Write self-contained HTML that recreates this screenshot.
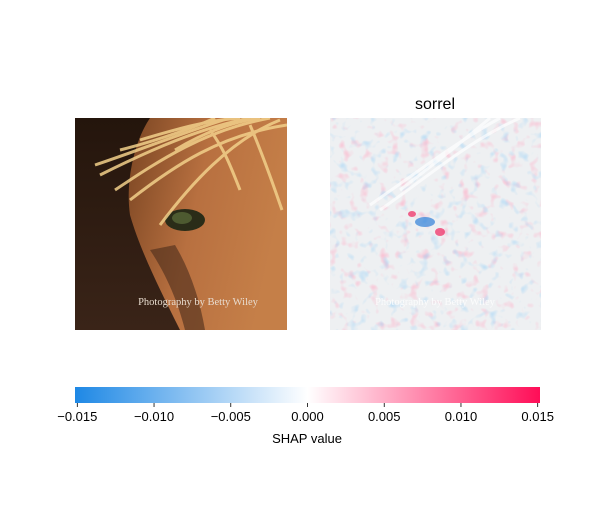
<!DOCTYPE html>
<html><head><meta charset="utf-8"><style>
body{margin:0;background:#fff;width:600px;height:500px;overflow:hidden;font-family:"Liberation Sans","DejaVu Sans",sans-serif}
</style></head><body>
<svg width="600" height="500" xmlns="http://www.w3.org/2000/svg">
<defs>
<linearGradient id="horse" x1="0" y1="0" x2="1" y2="0.3">
<stop offset="0" stop-color="#7a4522"/><stop offset="0.5" stop-color="#b87040"/><stop offset="1" stop-color="#c57f48"/></linearGradient>
<linearGradient id="bg" x1="0" y1="0" x2="0" y2="1">
<stop offset="0" stop-color="#24150c"/><stop offset="1" stop-color="#3a2418"/></linearGradient>
<linearGradient id="cb" x1="0" y1="0" x2="1" y2="0">
<stop offset="0" stop-color="#1e88e5"/><stop offset="0.5" stop-color="#ffffff"/><stop offset="1" stop-color="#ff0d57"/></linearGradient>
<filter id="noiseR" x="0" y="0" width="1" height="1">
<feTurbulence type="fractalNoise" baseFrequency="0.1" numOctaves="2" seed="3"/>
<feColorMatrix type="matrix" values="0 0 0 0 1  0 0 0 0 0.4  0 0 0 0 0.55  2 0 0 0 -1.15"/>
</filter>
<filter id="noiseB" x="0" y="0" width="1" height="1">
<feTurbulence type="fractalNoise" baseFrequency="0.1" numOctaves="2" seed="9"/>
<feColorMatrix type="matrix" values="0 0 0 0 0.35  0 0 0 0 0.65  0 0 0 0 0.92  2 0 0 0 -1.15"/>
</filter>
<clipPath id="clipL"><rect x="75" y="118" width="212" height="212"/></clipPath>
</defs>

<g clip-path="url(#clipL)">
<rect x="75" y="118" width="212" height="212" fill="url(#bg)"/>
<path d="M150,118 L287,118 L287,330 L180,330 C160,290 140,250 130,215 C125,180 135,140 150,118Z" fill="url(#horse)"/>
<path d="M150,250 C170,280 180,310 185,330 L205,330 C200,300 190,270 175,245Z" fill="#4a2c1a" opacity="0.6"/>
<ellipse cx="185" cy="220" rx="20" ry="11" fill="#2a2c18"/>
<ellipse cx="182" cy="218" rx="10" ry="6" fill="#4d5a30"/>
<g stroke="#f2d08a" stroke-width="3" fill="none" opacity="0.85">
<path d="M95,165 C140,150 190,130 230,118"/><path d="M100,175 C150,150 200,128 250,118"/>
<path d="M115,190 C160,160 205,130 270,118"/><path d="M130,200 C175,165 220,135 287,125"/>
<path d="M160,225 C190,185 230,140 280,120"/><path d="M250,125 C265,160 275,190 282,210"/>
<path d="M210,130 C225,150 232,170 240,190"/><path d="M120,150 C160,140 200,125 215,118"/>
<path d="M140,140 C180,128 210,120 240,118"/><path d="M175,150 C200,135 230,122 260,118"/>
</g>
<text x="198" y="305" font-family="Liberation Serif,serif" font-size="10.5" fill="#e8dccf" text-anchor="middle">Photography by Betty Wiley</text>
</g>

<g>
<rect x="330" y="118" width="211" height="212" fill="#eef0f2"/>
<rect x="330" y="118" width="211" height="212" filter="url(#noiseR)"/>
<rect x="330" y="118" width="211" height="212" filter="url(#noiseB)"/>
<g stroke="#ffffff" stroke-width="3" opacity="0.7" fill="none">
<path d="M370,205 C420,170 460,140 500,118"/><path d="M380,210 C430,175 470,140 520,118"/><path d="M400,190 C440,160 470,135 490,118"/>
</g>
<ellipse cx="425" cy="222" rx="10" ry="5" fill="#2f7fd8" opacity="0.7"/>
<ellipse cx="440" cy="232" rx="5" ry="4" fill="#f0245e" opacity="0.7"/>
<ellipse cx="412" cy="214" rx="4" ry="3" fill="#f0245e" opacity="0.7"/>
<text x="435" y="305" font-family="Liberation Serif,serif" font-size="10.5" fill="#fff" opacity="0.8" text-anchor="middle">Photography by Betty Wiley</text>
</g>
<text x="435" y="109" font-size="16" text-anchor="middle" fill="#000">sorrel</text>

<g id="colorbar">
<rect x="75" y="387" width="465" height="16" fill="url(#cb)"/>
</g>
<text x="307" y="443" font-size="13" text-anchor="middle" fill="#000">SHAP value</text>
</svg>
<script>
const tickValues=[-0.015,-0.010,-0.005,0.000,0.005,0.010,0.015];
const tickLabels=["\u22120.015","\u22120.010","\u22120.005","0.000","0.005","0.010","0.015"];
const domain=[-0.01515,0.01515];
const x=v=>75+(v-domain[0])/(domain[1]-domain[0])*465;
const g=document.getElementById('colorbar');
const NS='http://www.w3.org/2000/svg';
tickValues.forEach((v,i)=>{
 const l=document.createElementNS(NS,'line');
 l.setAttribute('x1',x(v));l.setAttribute('x2',x(v));l.setAttribute('y1',403);l.setAttribute('y2',407);
 l.setAttribute('stroke','#000');l.setAttribute('stroke-width','0.8');
 
 
 g.appendChild(l);
 const t=document.createElementNS(NS,'text');
 t.setAttribute('x',x(v));t.setAttribute('y',421);t.setAttribute('text-anchor','middle');
 t.setAttribute('font-size','13');t.textContent=tickLabels[i];
 
 
 g.appendChild(t);
});
</script>
</body></html>
